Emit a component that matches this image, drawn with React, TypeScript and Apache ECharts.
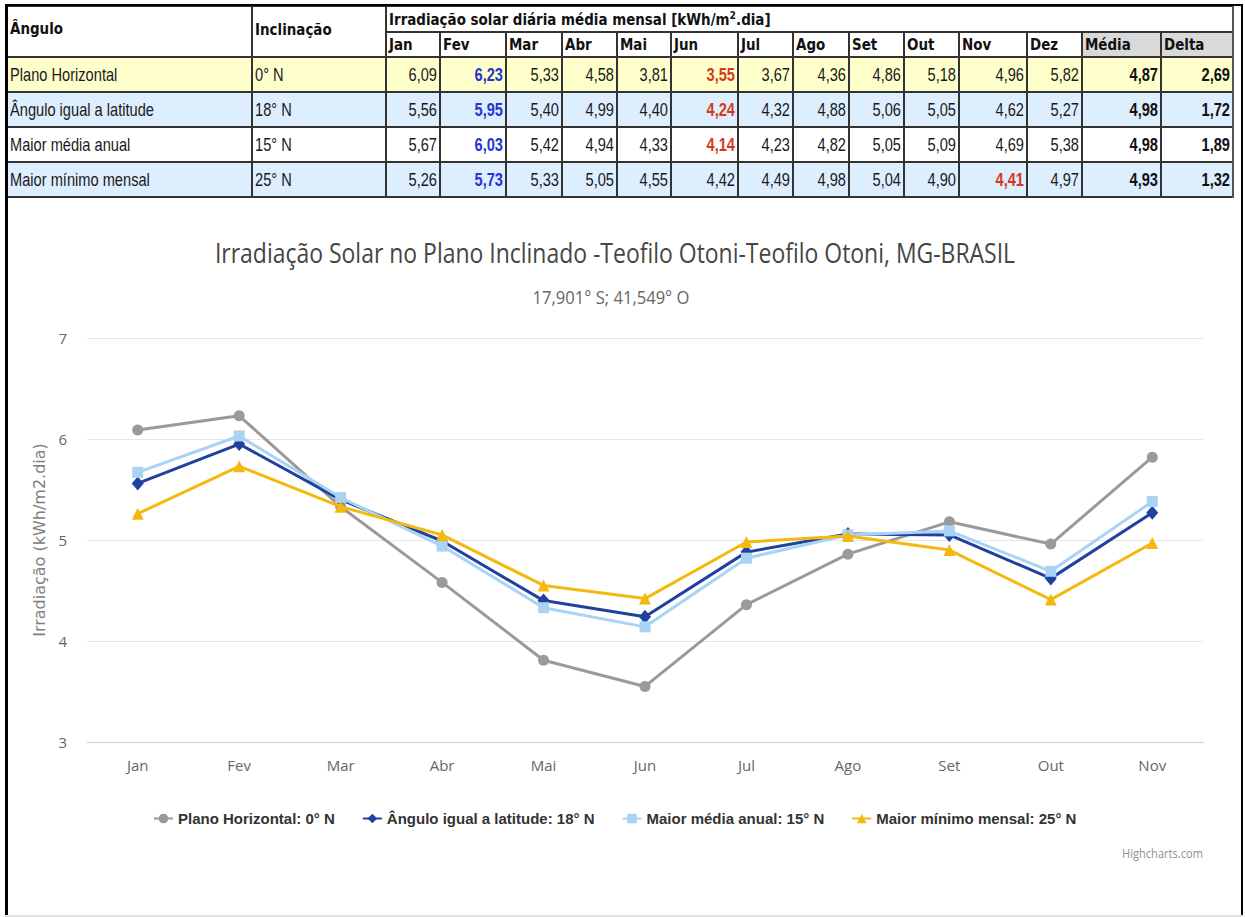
import React, { useEffect, useRef } from "react";
import * as echarts from "echarts";

// ---------- Table data ----------
const tableMonths = ["Jan", "Fev", "Mar", "Abr", "Mai", "Jun", "Jul", "Ago", "Set", "Out", "Nov", "Dez"];
const rowNames = ["Plano Horizontal", "Ângulo igual a latitude", "Maior média anual", "Maior mínimo mensal"];
const rowTilts = ["0° N", "18° N", "15° N", "25° N"];
const tablePlano = [6.09, 6.23, 5.33, 4.58, 3.81, 3.55, 3.67, 4.36, 4.86, 5.18, 4.96, 5.82];
const tableLatitude = [5.56, 5.95, 5.4, 4.99, 4.4, 4.24, 4.32, 4.88, 5.06, 5.05, 4.62, 5.27];
const tableMedia = [5.67, 6.03, 5.42, 4.94, 4.33, 4.14, 4.23, 4.82, 5.05, 5.09, 4.69, 5.38];
const tableMinimo = [5.26, 5.73, 5.33, 5.05, 4.55, 4.42, 4.49, 4.98, 5.04, 4.9, 4.41, 4.97];
const rowMedias = [4.87, 4.98, 4.98, 4.93];
const rowDeltas = [2.69, 1.72, 1.89, 1.32];

// ---------- Chart data ----------
const chartCategories = ["Jan", "Fev", "Mar", "Abr", "Mai", "Jun", "Jul", "Ago", "Set", "Out", "Nov"];
const chartPlano = [6.09, 6.23, 5.33, 4.58, 3.81, 3.55, 4.36, 4.86, 5.18, 4.96, 5.82];
const chartLatitude = [5.56, 5.95, 5.4, 4.99, 4.4, 4.24, 4.88, 5.06, 5.05, 4.62, 5.27];
const chartMedia = [5.67, 6.03, 5.42, 4.94, 4.33, 4.14, 4.82, 5.05, 5.09, 4.69, 5.38];
const chartMinimo = [5.26, 5.73, 5.33, 5.05, 4.55, 4.42, 4.98, 5.04, 4.9, 4.41, 4.97];
const seriesNames = [
  "Plano Horizontal: 0° N",
  "Ângulo igual a latitude: 18° N",
  "Maior média anual: 15° N",
  "Maior mínimo mensal: 25° N",
];
const yMin = 3;
const yMax = 7;
const yStep = 1;

const titleText = "Irradiação Solar no Plano Inclinado -Teofilo Otoni-Teofilo Otoni, MG-BRASIL";
const subtitleText = "17,901° S; 41,549° O";
const yAxisTitle = "Irradiação (kWh/m2.dia)";

// ---------- Layout ----------
const colX = [7, 252, 386, 440, 506, 562, 617, 671, 738, 793, 849, 904, 959, 1027, 1082, 1161, 1233];
const rowY = [6, 32, 57, 92, 127, 162, 197];
const rowBg = ["#FFFFCC", "#DDEEFF", "#FFFFFF", "#DDEEFF"];

const BODY_FONT = "'Liberation Sans', Arial, sans-serif";
const HEAD_FONT = "'DejaVu Sans', Verdana, sans-serif";

const fmt = (v: number) => v.toFixed(2).replace(".", ",");

function measure(text: string, font: string): number {
  const c = document.createElement("canvas").getContext("2d");
  if (!c) return text.length * 10;
  c.font = font;
  return c.measureText(text).width;
}

type CellProps = {
  x0: number; x1: number; y0: number; y1: number;
  children: React.ReactNode;
  align?: "left" | "right";
  head?: boolean;
  bold?: boolean;
  color?: string;
  bg?: string;
  dy?: number;
};

function Cell({ x0, x1, y0, y1, children, align = "left", head = false, bold = false, color = "#1a1a1a", bg, dy = 0 }: CellProps) {
  const scale = head ? 0.84 : 0.77;
  return (
    <div
      style={{
        position: "absolute",
        left: x0,
        top: y0 + dy,
        width: x1 - x0,
        height: y1 - y0,
        background: bg,
        display: "flex",
        alignItems: "center",
        justifyContent: align === "left" ? "flex-start" : "flex-end",
        boxSizing: "border-box",
        paddingLeft: align === "left" ? 3 : 0,
        paddingRight: align === "right" ? 3 : 0,
        whiteSpace: "nowrap",
        overflow: "visible",
      }}
    >
      <span
        style={{
          display: "inline-block",
          transform: `scaleX(${scale})`,
          transformOrigin: align === "left" ? "left center" : "right center",
          fontFamily: head ? HEAD_FONT : BODY_FONT,
          fontSize: head ? 16 : 19,
          fontWeight: head || bold ? "bold" : "normal",
          color: head ? "#111" : color,
          lineHeight: 1,
        }}
      >
        {children}
      </span>
    </div>
  );
}

function Line({ x, y, w, h, color = "#333" }: { x: number; y: number; w: number; h: number; color?: string }) {
  return <div style={{ position: "absolute", left: x, top: y, width: w, height: h, background: color }} />;
}

function DataTable() {
  const rows = [tablePlano, tableLatitude, tableMedia, tableMinimo];
  const cells: React.ReactNode[] = [];
  cells.push(<Cell key="h-ang" x0={colX[0]} x1={colX[1]} y0={rowY[0]} y1={rowY[2]} head dy={-3}>Ângulo</Cell>);
  cells.push(<Cell key="h-inc" x0={colX[1]} x1={colX[2]} y0={rowY[0]} y1={rowY[2]} head dy={-2}>Inclinação</Cell>);
  cells.push(
    <Cell key="h-irr" x0={colX[2]} x1={colX[16]} y0={rowY[0]} y1={rowY[1]} head>
      Irradiação solar diária média mensal [kWh/m<sup style={{ fontSize: 11, verticalAlign: "6px" }}>2</sup>.dia]
    </Cell>
  );
  tableMonths.forEach((m, i) => {
    cells.push(<Cell key={"hm" + i} x0={colX[2 + i]} x1={colX[3 + i]} y0={rowY[1]} y1={rowY[2]} head>{m}</Cell>);
  });
  cells.push(<Cell key="h-med" x0={colX[14]} x1={colX[15]} y0={rowY[1]} y1={rowY[2]} head bg="#D9D9D9">Média</Cell>);
  cells.push(<Cell key="h-del" x0={colX[15]} x1={colX[16]} y0={rowY[1]} y1={rowY[2]} head bg="#D9D9D9">Delta</Cell>);

  rows.forEach((vals, r) => {
    const y0 = rowY[2 + r];
    const y1 = rowY[3 + r];
    const bg = rowBg[r];
    const maxV = Math.max(...vals);
    const minV = Math.min(...vals);
    cells.push(<div key={"bg" + r} style={{ position: "absolute", left: colX[0], top: y0, width: colX[16] - colX[0], height: y1 - y0, background: bg }} />);
    cells.push(<Cell key={"n" + r} x0={colX[0]} x1={colX[1]} y0={y0} y1={y1}>{rowNames[r]}</Cell>);
    cells.push(<Cell key={"t" + r} x0={colX[1]} x1={colX[2]} y0={y0} y1={y1}>{rowTilts[r]}</Cell>);
    vals.forEach((v, i) => {
      const isMax = v === maxV;
      const isMin = v === minV;
      cells.push(
        <Cell
          key={"v" + r + "-" + i}
          x0={colX[2 + i]}
          x1={colX[3 + i]}
          y0={y0}
          y1={y1}
          align="right"
          bold={isMax || isMin}
          color={isMax ? "#2236D0" : isMin ? "#D8381A" : "#1a1a1a"}
        >
          {fmt(v)}
        </Cell>
      );
    });
    cells.push(<Cell key={"m" + r} x0={colX[14]} x1={colX[15]} y0={y0} y1={y1} align="right" bold color="#111">{fmt(rowMedias[r])}</Cell>);
    cells.push(<Cell key={"d" + r} x0={colX[15]} x1={colX[16]} y0={y0} y1={y1} align="right" bold color="#111">{fmt(rowDeltas[r])}</Cell>);
  });

  const lines: React.ReactNode[] = [];
  [rowY[0], rowY[2], rowY[3], rowY[4], rowY[5], rowY[6]].forEach((y, i) => {
    lines.push(<Line key={"hl" + i} x={colX[0]} y={y - 1} w={colX[16] - colX[0] + 1} h={2} />);
  });
  lines.push(<Line key="hl-sub" x={colX[2]} y={rowY[1] - 1} w={colX[16] - colX[2]} h={2} />);
  [colX[0], colX[1], colX[2]].forEach((x, i) => {
    lines.push(<Line key={"vl" + i} x={x - 1} y={rowY[0] - 1} w={2} h={rowY[6] - rowY[0] + 2} />);
  });
  lines.push(<Line key="vl-right" x={colX[16] - 1} y={rowY[0] - 1} w={2} h={rowY[6] - rowY[0] + 2} color="#555" />);
  for (let i = 3; i <= 15; i++) {
    lines.push(<Line key={"vm" + i} x={colX[i] - 1} y={rowY[1]} w={2} h={rowY[6] - rowY[1]} />);
  }

  return (
    <div style={{ position: "absolute", left: 0, top: 0, width: 1245, height: 210, pointerEvents: "none" }}>
      {cells}
      {lines}
    </div>
  );
}

export default function App() {
  const ref = useRef<HTMLDivElement>(null);

  useEffect(() => {
    if (!ref.current) return;
    const chart = echarts.init(ref.current, null, { renderer: "svg" });

    const titleFont = "28px 'Open Sans'";
    const subFont = "19px 'Open Sans'";
    const creditFont = "13px 'Open Sans'";
    const titleScale = 800 / measure(titleText, titleFont);
    const subScale = 157 / measure(subtitleText, subFont);
    const creditScale = 81 / measure("Highcharts.com", creditFont);

    const colors = ["#9A9A9A", "#2141A0", "#A9D3F5", "#F4B90F"];
    const symbols = ["circle", "diamond", "rect", "triangle"];
    const sizes: any[] = [11, [12, 14], 11, 12];
    const datas = [chartPlano, chartLatitude, chartMedia, chartMinimo];

    chart.setOption({
      animation: false,
      backgroundColor: "#ffffff",
      grid: { left: 87, right: 42, top: 338, bottom: 175, containLabel: false },
      xAxis: {
        type: "category",
        data: chartCategories,
        boundaryGap: true,
        axisLine: { show: true, lineStyle: { color: "#C0D0E0", width: 1 } },
        axisTick: { show: false },
        axisLabel: { color: "#666", fontFamily: "'Open Sans', sans-serif", fontSize: 15, margin: 15 },
        splitLine: { show: false },
      },
      yAxis: {
        type: "value",
        min: yMin,
        max: yMax,
        interval: yStep,
        name: yAxisTitle,
        nameLocation: "middle",
        nameGap: 37,
        nameTextStyle: { color: "#808080", fontFamily: "'DejaVu Sans', sans-serif", fontSize: 16 },
        axisLine: { show: false },
        axisTick: { show: false },
        axisLabel: { color: "#666", fontFamily: "'Open Sans', sans-serif", fontSize: 15, margin: 20 },
        splitLine: { show: true, lineStyle: { color: "#E6E6E6", width: 1 } },
      },
      legend: {
        left: 148,
        top: 806,
        itemWidth: 19,
        itemHeight: 12,
        itemGap: 27,
        data: seriesNames,
        textStyle: { color: "#333", fontFamily: "'Liberation Sans', Arial, sans-serif", fontWeight: "bold", fontSize: 15 },
      },
      graphic: [
        {
          type: "text",
          x: 615,
          y: 253,
          scaleX: titleScale,
          style: { text: titleText, font: titleFont, fill: "#454545", textAlign: "center", textVerticalAlign: "middle", align: "center", verticalAlign: "middle" },
        },
        {
          type: "text",
          x: 611,
          y: 297,
          scaleX: subScale,
          style: { text: subtitleText, font: subFont, fill: "#666", textAlign: "center", textVerticalAlign: "middle", align: "center", verticalAlign: "middle" },
        },
        {
          type: "text",
          x: 1203,
          y: 853,
          scaleX: creditScale,
          style: { text: "Highcharts.com", font: creditFont, fill: "#909090", textAlign: "right", textVerticalAlign: "middle", align: "right", verticalAlign: "middle" },
        },
      ],
      series: seriesNames.map((name, i) => ({
        name,
        type: "line",
        data: datas[i],
        symbol: symbols[i],
        symbolSize: sizes[i],
        showSymbol: true,
        lineStyle: { color: colors[i], width: 3 },
        itemStyle: { color: colors[i] },
        emphasis: { disabled: true },
        z: 2 + i,
      })),
    });

    return () => chart.dispose();
  }, []);

  return (
    <div style={{ position: "absolute", left: 0, top: 0, width: 1245, height: 917, background: "#fff", overflow: "hidden" }}>
      <div ref={ref} style={{ position: "absolute", left: 0, top: 0, width: 1245, height: 917 }} />
      <DataTable />
      <div style={{ position: "absolute", left: 5, top: 4, width: 1238, height: 2, background: "#000" }} />
      <div style={{ position: "absolute", left: 5, top: 4, width: 3, height: 913, background: "#000" }} />
      <div style={{ position: "absolute", left: 1241, top: 4, width: 2, height: 913, background: "#000" }} />
      <div style={{ position: "absolute", left: 5, top: 915, width: 1238, height: 2, background: "#E0E0E0" }} />
    </div>
  );
}
